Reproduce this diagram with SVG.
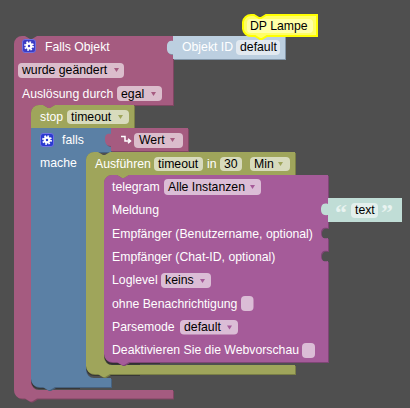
<svg xmlns="http://www.w3.org/2000/svg" width="410" height="408" viewBox="0 0 410 408">
<style>
text{font-family:"Liberation Sans",Arial,sans-serif;font-size:12.25px;fill:#fff}
.v{fill:#000}
.q{font-family:"Liberation Serif",serif;font-size:24px;font-weight:bold;fill:#e8f3f0}
.pk{fill:#a55b80}.ol{fill:#9fa55b}.bl{fill:#5b80a5}.tg{fill:#a55b99}
.pk-d{fill:#7f4662}.ol-d{fill:#7a7f46}.bl-d{fill:#466280}.tg-d{fill:#7f4676}
.sh{fill:#2e2e2e;opacity:.7}
.cpk{fill:#dbbdcc}.col{fill:#d8dbbd}.ctg{fill:#dbbdd6}
.apk{fill:#a55b80}.aol{fill:#9fa55b}.atg{fill:#a55b99}
.icon{stroke:#7070e0;stroke-width:1}
.gear{fill:none;stroke:#fff;stroke-width:2.200}
.tooth{fill:none;stroke:#fff;stroke-width:1.800;stroke-dasharray:1.600 1.540}
</style>
<rect width="410" height="408" fill="#4f4f4f"/>
<g id="connectors"/>
<g id="falls-objekt">
<path class="pk-d" transform="translate(1,1)" d="M14 44A8 8 0 0 1 22 36H25l5 3h2l5-3H173V105H55l-5 3h-2l-5-3H39A8 8 0 0 0 31 113V382A8 8 0 0 0 39 390H173V398.500H37l-5 3h-2l-5-3H22A8 8 0 0 1 14 390Z"/>
<path class="pk" d="M14 44A8 8 0 0 1 22 36H25l5 3h2l5-3H173V105H55l-5 3h-2l-5-3H39A8 8 0 0 0 31 113V382A8 8 0 0 0 39 390H173V398.500H37l-5 3h-2l-5-3H22A8 8 0 0 1 14 390Z"/>
<rect class="icon" x="22.500" y="39.500" width="13" height="13" rx="2.500" fill="#3c3cc4"/>
<circle class="gear" cx="29" cy="46" r="2.300"/><circle class="tooth" cx="29" cy="46" r="4"/>
<text x="45" y="51">Falls Objekt</text>
<rect class="cpk" x="18" y="63" width="106" height="15" rx="4"/>
<text class="v" x="22" y="74">wurde geändert</text>
<polygon class="apk" points="114,68 119,68 116.500,72"/>
<text x="22" y="98">Auslösung durch</text>
<rect class="cpk" x="117" y="86" width="45" height="15" rx="4"/>
<text class="v" x="121" y="98">egal</text>
<polygon class="apk" points="151,92 156,92 153.500,96"/>
</g>
<g id="objekt-id">
<path fill="#8396a8" transform="translate(1,1)" d="M173 36H285V59H173V54C166 55 167 48 167 46C167 44 168 40 173 41Z"/>
<path fill="#bccfe0" d="M173 36H285V59H173V54C166 55 167 48 167 46C167 44 168 40 173 41Z"/>
<text x="182" y="51">Objekt ID</text>
<rect x="236" y="40" width="44" height="15" rx="4" fill="#e2e9f0"/>
<text class="v" x="240" y="51">default</text>
</g>
<g id="dp-lampe">
<path fill="#ffff66" stroke="#ffff00" stroke-width="2" d="M243 22A8 8 0 0 1 251 15H254l5 3h2l5-3H317V36H267l-5 3h-2l-5-3H251A8 8 0 0 1 243 29Z"/>
<rect x="247" y="19" width="66" height="14" rx="4" fill="#ffffa8"/>
<text class="v" x="250" y="30">DP Lampe</text>
</g>
<g id="stop">
<path class="ol-d" transform="translate(1,1)" d="M31 113A8 8 0 0 1 39 105H43l5 3h2l5-3H134V128H31Z"/>
<path class="ol" d="M31 113A8 8 0 0 1 39 105H43l5 3h2l5-3H134V128H31Z"/>
<text x="40" y="121">stop</text>
<rect class="col" x="67" y="110" width="62" height="14" rx="4"/>
<text class="v" x="71" y="121">timeout</text>
<polygon class="aol" points="118,115 123,115 120.500,119"/>
</g>
<g id="falls">
<path class="sh" transform="translate(0,2)" d="M31 374V379A8 8 0 0 0 39 387H80V374Z"/>
<path class="bl-d" transform="translate(1,1)" d="M31 128H111V152H94A8 8 0 0 0 86 160V370A8 8 0 0 0 94 378H111V387H55l-5 3h-2l-5-3H39A8 8 0 0 1 31 379Z"/>
<path class="bl" d="M31 128H111V152H94A8 8 0 0 0 86 160V370A8 8 0 0 0 94 378H111V387H55l-5 3h-2l-5-3H39A8 8 0 0 1 31 379Z"/>
<rect class="icon" x="40.500" y="133.500" width="13" height="13" rx="2.500" fill="#2a3ad0"/>
<circle class="gear" cx="47" cy="140" r="2.300"/><circle class="tooth" cx="47" cy="140" r="4"/>
<text x="62" y="144">falls</text>
<text x="40" y="167">mache</text>
</g>
<g id="wert">
<path class="pk-d" transform="translate(1,1)" d="M111 128H188V151H111V146C105 146 105 141 105 139C105 136 106 133 111 134Z"/>
<path class="pk" d="M111 128H188V151H111V146C105 146 105 141 105 139C105 136 106 133 111 134Z"/>
<path d="M121 136.500H125V141H130M128 138.800L130.500 141L128 143.200" fill="none" stroke="#fff" stroke-width="1.500"/>
<rect class="cpk" x="134" y="133" width="49" height="15" rx="4"/>
<text class="v" x="139" y="144">Wert</text>
<polygon class="apk" points="170,138 175,138 172.500,142"/>
</g>
<g id="ausfuehren">
<path class="sh" transform="translate(0,2)" d="M86 360V366A8 8 0 0 0 94 374H140V360Z"/>
<path class="ol-d" transform="translate(1,1)" d="M86 160A8 8 0 0 1 94 152H98l5 3h2l5-3H295V175H129l-5 3h-2l-5-3H112A8 8 0 0 0 104 183V357A8 8 0 0 0 112 365H295V374H110l-5 3h-2l-5-3H94A8 8 0 0 1 86 366Z"/>
<path class="ol" d="M86 160A8 8 0 0 1 94 152H98l5 3h2l5-3H295V175H129l-5 3h-2l-5-3H112A8 8 0 0 0 104 183V357A8 8 0 0 0 112 365H295V374H110l-5 3h-2l-5-3H94A8 8 0 0 1 86 366Z"/>
<text x="95" y="168">Ausführen</text>
<rect class="col" x="154" y="157" width="49" height="14" rx="4"/>
<text class="v" x="158" y="168">timeout</text>
<text x="207" y="168">in</text>
<rect class="col" x="220" y="157" width="22" height="14" rx="4"/>
<text class="v" x="224" y="168">30</text>
<rect class="col" x="250" y="157" width="40" height="14" rx="4"/>
<text class="v" x="254" y="168">Min</text>
<polygon class="aol" points="278,162 283,162 280.500,166"/>
</g>
<g id="telegram">
<path class="sh" transform="translate(0,2)" d="M104 348V354A8 8 0 0 0 112 362H160V348Z"/>
<path class="tg-d" transform="translate(1,1)" d="M104 183A8 8 0 0 1 112 175H117l5 3h2l5-3H328V228C323 227 321 229 321 233C321 237 323 239 328 238V251C323 250 321 252 321 256C321 260 323 262 328 261V362H129l-5 3h-2l-5-3H112A8 8 0 0 1 104 354Z"/>
<path class="tg" d="M104 183A8 8 0 0 1 112 175H117l5 3h2l5-3H328V228C323 227 321 229 321 233C321 237 323 239 328 238V251C323 250 321 252 321 256C321 260 323 262 328 261V362H129l-5 3h-2l-5-3H112A8 8 0 0 1 104 354Z"/>
<text x="112" y="191">telegram</text>
<rect class="ctg" x="164" y="179" width="97" height="16" rx="4"/>
<text class="v" x="168" y="191">Alle Instanzen</text>
<polygon class="atg" points="250,185 255,185 252.500,189"/>
<text x="112" y="214">Meldung</text>
<text x="112" y="238">Empfänger (Benutzername, optional)</text>
<text x="112" y="261">Empfänger (Chat-ID, optional)</text>
<text x="112" y="284">Loglevel</text>
<rect class="ctg" x="161" y="273" width="50" height="15" rx="4"/>
<text class="v" x="165" y="284">keins</text>
<polygon class="atg" points="200,279 205,279 202.500,283"/>
<text x="112" y="308">ohne Benachrichtigung</text>
<rect class="ctg" x="241" y="296" width="12.500" height="15" rx="4"/>
<text x="112" y="331">Parsemode</text>
<rect class="ctg" x="180" y="320" width="58" height="14.500" rx="4"/>
<text class="v" x="184" y="331">default</text>
<polygon class="atg" points="227,325.500 232,325.500 229.500,329.500"/>
<text x="112" y="354">Deaktivieren Sie die Webvorschau</text>
<rect class="ctg" x="302" y="343" width="13" height="15" rx="4"/>
</g>
<g id="text">
<path fill="#c0ddd6" d="M328 198H402V222H328V215C321 216 321 211 321 209C321 207 322 202 328 204Z"/>
<text class="q" x="335" y="220">“</text>
<text class="q" x="381" y="220">”</text>
<rect x="351" y="203" width="27" height="15" rx="4" fill="#e3f0ed"/>
<text class="v" x="355" y="214">text</text>
</g>
</svg>
